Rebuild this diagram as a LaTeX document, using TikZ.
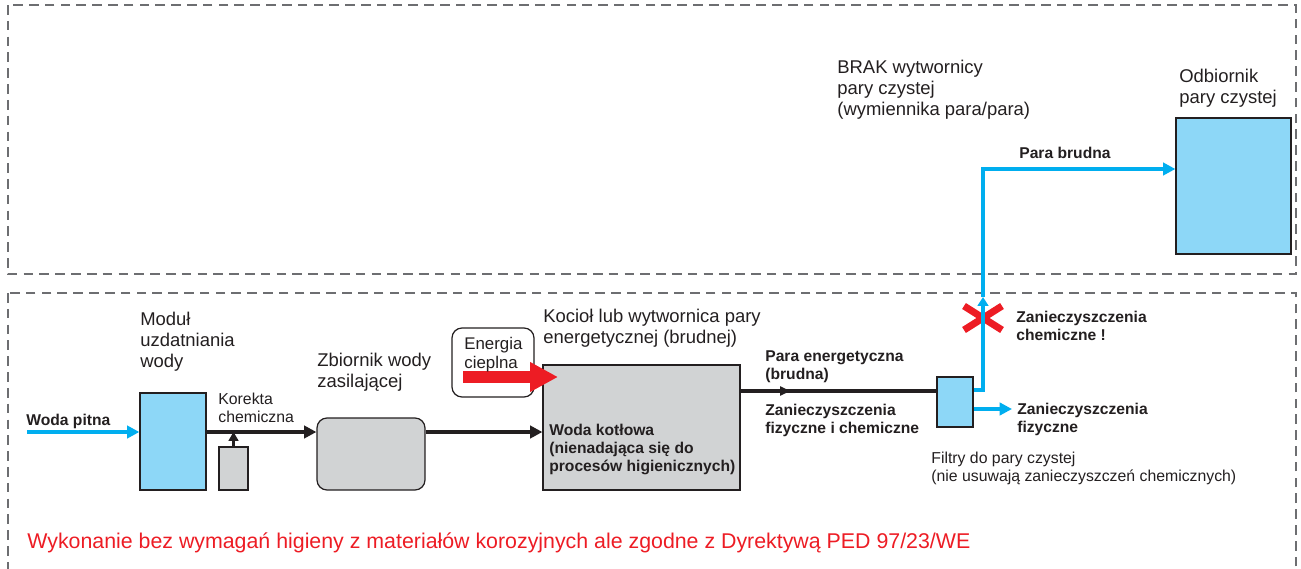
\documentclass[tikz,border=0pt]{standalone}
\usepackage{fontspec}
\setmainfont{Liberation Sans}
\usetikzlibrary{arrows.meta,calc}
\definecolor{niebieski}{HTML}{00AEEF}
\definecolor{jasnyniebieski}{HTML}{8DD7F7}
\definecolor{czerwony}{HTML}{ED1C24}
\definecolor{szary}{HTML}{D1D3D4}
\definecolor{ramka}{HTML}{6D6E71}
\definecolor{tekst}{HTML}{231F20}
\tikzset{
	strefa/.style={draw=ramka,line width=0.6pt,dash pattern=on 5.5pt off 3.5pt},
	blok/.style={draw=tekst,line width=0.7pt,inner sep=0pt},
	opis/.style={anchor=base west,inner sep=0pt,align=left,text=tekst,font=\fontsize{10.5}{11.7}\selectfont},
	opisb/.style={opis,font=\bfseries\fontsize{8.9}{10.2}\selectfont},
	opism/.style={opis,font=\fontsize{9}{10}\selectfont},
	woda/.style={niebieski,line width=2.2pt,-{Triangle[length=7pt,width=7pt]}},
	para/.style={tekst,line width=2.3pt},
}
\begin{document}
\begin{tikzpicture}[x=0.02cm,y=-0.02cm]
		\clip (0,0) rectangle (1301,568);
		% strefy
		\draw[strefa] (8,5) rectangle (1296,274);
		\draw[strefa] (8,293) rectangle (1296,600);
		% bloki
		\node[blok,fill=jasnyniebieski,minimum width=1.32cm,minimum height=1.94cm] (modul) at (173,441.5) {};
		\node[blok,fill=szary,minimum width=0.58cm,minimum height=0.86cm] (korekta) at (233.5,468.5) {};
		\node[blok,fill=szary,rounded corners=0.2cm,minimum width=2.16cm,minimum height=1.44cm] (zbiornik) at (371,454) {};
		\node[blok,fill=szary,minimum width=3.94cm,minimum height=2.5cm] (kociol) at (641.5,427.5) {};
		\node[blok,fill=white,rounded corners=0.2cm,minimum width=1.64cm,minimum height=1.38cm] (energia) at (493,362.5) {};
		\node[blok,fill=jasnyniebieski,minimum width=0.72cm,minimum height=1cm] (filtr) at (955,402) {};
		\node[blok,fill=jasnyniebieski,minimum width=2.3cm,minimum height=2.72cm] (odbiornik) at (1233.5,186) {};
		% punkty pomocnicze
		\coordinate (wlot) at (27,432);
		\coordinate (paraA) at (0,391);
		\coordinate (cieplo) at (558,377);
		\coordinate (krzyz) at (983,318);
		\coordinate (grot) at (983,297);
		\coordinate (zakret) at (983,169);
		\coordinate (fizyczne) at (1012,409);
		% przeplyw
		\draw[woda] (wlot) -- (wlot -| modul.west);
		\draw[para,-{Triangle[length=7pt,width=7pt]}] (modul.east |- wlot) -- (zbiornik.west |- wlot);
		\draw[tekst,line width=1.6pt,-{Triangle[length=5pt,width=5.5pt]}] (korekta.north) -- (korekta.north |- wlot);
		\draw[para,-{Triangle[length=7pt,width=7pt]}] (zbiornik.east |- wlot) -- (kociol.west |- wlot);
		\draw[para] (kociol.east |- paraA) -- (filtr.west |- paraA);
		\draw[para,-{Triangle[length=6pt,width=5pt]}] (kociol.east |- paraA) -- ++(50,0);
		\draw[czerwony,line width=0.24cm,-{Triangle[length=0.56cm,width=0.56cm]}] ([xshift=0.24cm]energia.west |- cieplo) -- (cieplo);
		\draw[czerwony,line width=4pt] ($(krzyz)+(-19,-12)$) -- ($(krzyz)+(19,12)$);
		\draw[czerwony,line width=4pt] ($(krzyz)+(-19,12)$) -- ($(krzyz)+(19,-12)$);
		\draw[woda,-{Triangle[length=5pt,width=6pt]}] ([yshift=0.24cm]filtr.east) -| (grot);
		\draw[woda] (grot) -- (zakret) -- (zakret -| odbiornik.west);
		\draw[woda] (filtr.east |- fizyczne) -- (fizyczne);
		% opisy
		\node[opisb] (t1) at (26,425) {Woda pitna};
		\node[opis] (t2) at (140,367) {Moduł\\uzdatniania\\wody};
		\node[opism] (t3) at (218,422) {Korekta\\chemiczna};
		\node[opis] (t4) at (317,387) {Zbiornik wody\\zasilającej};
		\node[opism,font=\fontsize{9.6}{10.6}\selectfont] (t5) at (464,368) {Energia\\cieplna};
		\node[opis] (t6) at (543,343) {Kocioł lub wytwornica pary\\energetycznej (brudnej)};
		\node[opisb] (t7) at (549,471) {Woda kotłowa\\(nienadająca się do\\procesów higienicznych)};
		\node[opisb] (t8) at (765,379) {Para energetyczna\\(brudna)};
		\node[opisb] (t9) at (765,433) {Zanieczyszczenia\\fizyczne i chemiczne};
		\node[opisb] (t10) at (1016,340) {Zanieczyszczenia\\chemiczne !};
		\node[opisb] (t11) at (1017,432) {Zanieczyszczenia\\fizyczne};
		\node[opism] (t12) at (931,481) {Filtry do pary czystej\\(nie usuwają zanieczyszczeń chemicznych)};
		\node[opis] (t13) at (837,115) {BRAK wytwornicy\\pary czystej\\(wymiennika para/para)};
		\node[opis] (t14) at (1179,103) {Odbiornik\\pary czystej};
		\node[opisb] (t15) at (1019,158) {Para brudna};
		\node[opis,text=czerwony,font=\fontsize{12.15}{14}\selectfont] (t16) at (27,548) {Wykonanie bez wymagań higieny z materiałów korozyjnych ale zgodne z Dyrektywą PED 97/23/WE};
	\end{tikzpicture}
\end{document}
